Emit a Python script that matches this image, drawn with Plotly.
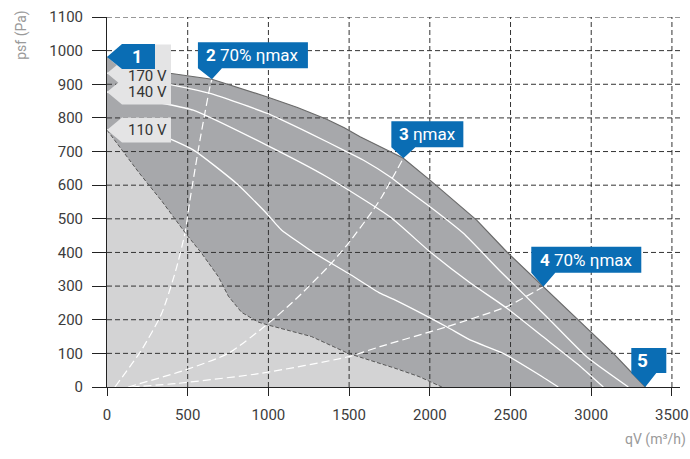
import plotly.graph_objects as go

# ---------------- data ----------------
X_TICKS = [0, 500, 1000, 1500, 2000, 2500, 3000, 3500]
Y_TICKS = [0, 100, 200, 300, 400, 500, 600, 700, 800, 900, 1000, 1100]
X_MAX = 3550
Y_MAX = 1100

# upper envelope (curve 1)
TOP_Q = [0, 150, 330, 400, 650, 989, 1180, 1361, 1470, 1568, 1753, 1836, 2001, 2290, 2476, 2703, 2931, 3137, 3335]
TOP_V = [981, 955, 935, 932, 915, 863, 831, 796, 771, 744, 700, 680, 615, 496, 402, 298, 194, 100, 0]

# lower limit of the operating area
LOW_Q = [0, 200, 339, 482, 587, 690, 752, 834, 937, 1000, 1267, 1494, 1783, 1933, 2075]
LOW_V = [764, 636, 553, 460, 397, 328, 270, 222, 193, 184, 150, 100, 56, 31, 0]

# speed curves
V170_Q = [0, 328, 638, 989, 1257, 1484, 1587, 1753, 1854, 2001, 2208, 2435, 2724, 2972, 3230]
V170_V = [933, 905, 873, 814, 754, 700, 675, 625, 588, 536, 457, 345, 209, 90, 0]
V140_Q = [0, 328, 534, 989, 1361, 1753, 2001, 2249, 2476, 2700, 2931, 3075]
V140_V = [877, 845, 823, 719, 625, 506, 402, 310, 235, 150, 62, 0]
V110_Q = [0, 328, 534, 803, 989, 1051, 1081, 1288, 1495, 1691, 1783, 2104, 2249, 2455, 2662, 2796]
V110_V = [764, 749, 705, 605, 516, 482, 467, 397, 338, 279, 259, 179, 140, 100, 41, 0]

# efficiency lines
E70L_Q = [49, 214, 339, 425, 483, 514, 576, 638, 650]
E70L_V = [0, 110, 219, 345, 457, 556, 734, 893, 915]
EMAX_Q = [131, 482, 752, 999, 1165, 1371, 1495, 1640, 1702, 1836]
EMAX_V = [0, 50, 100, 189, 259, 358, 427, 520, 565, 680]
E70R_Q = [150, 442, 958, 1495, 1691, 2104, 2476, 2703]
E70R_V = [0, 11, 41, 90, 120, 179, 239, 298]

VOLT_LABELS = ["170 V", "140 V", "110 V"]

# ---------------- style ----------------
DARK = "#a7a8ab"
LIGHT = "#d3d3d4"
LABEL_GREY = "#e4e4e5"
BLUE = "#0a6db4"
FONT = "Roboto, Liberation Sans, sans-serif"

fig = go.Figure()

# light grey area below the lower limit
fig.add_trace(go.Scatter(x=[0] + LOW_Q, y=[0] + LOW_V, mode="lines", fill="toself",
                         fillcolor=LIGHT, line=dict(width=0), hoverinfo="skip"))
# dark grey operating area
fig.add_trace(go.Scatter(x=TOP_Q + LOW_Q[::-1], y=TOP_V + LOW_V[::-1], mode="lines",
                         fill="toself", fillcolor=DARK, line=dict(width=0), hoverinfo="skip"))

# grid (drawn above the fills)
gx, gy = [], []
for t in Y_TICKS[1:]:
    gx += [0, X_MAX, None]
    gy += [t, t, None]
for t in X_TICKS[1:]:
    gx += [t, t, None]
    gy += [0, Y_MAX, None]
fig.add_trace(go.Scatter(x=gx, y=gy, mode="lines", line=dict(color="#333333", width=1, dash="5px,3px"),
                         hoverinfo="skip"))

# efficiency lines
for qs, vs in [(E70L_Q, E70L_V), (EMAX_Q, EMAX_V), (E70R_Q, E70R_V)]:
    fig.add_trace(go.Scatter(x=qs, y=vs, mode="lines",
                             line=dict(color="white", width=1.2, dash="8px,4px", shape="spline", smoothing=0.6),
                             hoverinfo="skip"))
# speed curves
for qs, vs in [(V170_Q, V170_V), (V140_Q, V140_V), (V110_Q, V110_V)]:
    fig.add_trace(go.Scatter(x=qs, y=vs, mode="lines",
                             line=dict(color="white", width=1.3, shape="spline", smoothing=0.5),
                             hoverinfo="skip"))
# boundaries
fig.add_trace(go.Scatter(x=LOW_Q, y=LOW_V, mode="lines",
                         line=dict(color="#555555", width=1, dash="4px,2px"), hoverinfo="skip"))
fig.add_trace(go.Scatter(x=TOP_Q, y=TOP_V, mode="lines",
                         line=dict(color="#6a6a6a", width=1.2), hoverinfo="skip"))


def callout(q, v, path, color):
    fig.add_shape(type="path", xref="x", yref="y", xsizemode="pixel", ysizemode="pixel",
                  xanchor=q, yanchor=v, path=path, fillcolor=color, line=dict(width=0), layer="above")


def label_text(q, v, text, dx, dy, color, size):
    fig.add_annotation(x=q, y=v, xref="x", yref="y", text=text, showarrow=False,
                       xanchor="center", yanchor="middle", xshift=dx, yshift=dy,
                       font=dict(family=FONT, size=size, color=color))


GREY_PATH = "M0,0 L15,12.5 L64,12.5 L64,-12.5 L15,-12.5 Z"
# hidden label behind "1"
callout(TOP_Q[0], TOP_V[0], GREY_PATH, LABEL_GREY)
for lab, v0, dy in zip(VOLT_LABELS, [V170_V[0], V140_V[0], V110_V[0]], [-3, 0, 0]):
    callout(0, v0, GREY_PATH, LABEL_GREY)
    label_text(0, v0, lab, 40, dy, "#333333", 15)

# blue callouts
callout(TOP_Q[0], TOP_V[0], "M0,0 L15,13 L48,13 L48,-12 L15,-12 Z", BLUE)
label_text(TOP_Q[0], TOP_V[0], "<b>1</b>", 30, 1, "white", 18)

callout(650, 915, "M0,0 L-14,11 L-14,37 L96,37 L96,11 L10,11 Z", BLUE)
label_text(650, 915, "<b>2</b> 70% ηmax", 41, 24, "white", 17)

callout(1836, 680, "M0,0 L-12,11 L-12,37 L60,37 L60,11 L12,11 Z", BLUE)
label_text(1836, 680, "<b>3</b> ηmax", 24, 24, "white", 17)

callout(2703, 298, "M0,0 L-12,14 L-12,40 L98,40 L98,14 L12,14 Z", BLUE)
label_text(2703, 298, "<b>4</b> 70% ηmax", 43, 27, "white", 17)

callout(TOP_Q[-1], TOP_V[-1], "M0,0 L-14,14 L-14,39 L21,39 L21,14 L11,14 Z", BLUE)
label_text(TOP_Q[-1], TOP_V[-1], "<b>5</b>", -3, 27, "white", 19)

# axis titles
fig.add_annotation(x=1, xref="paper", xshift=8, y=-0.143, yref="paper", text="qV (m³/h)",
                   showarrow=False, xanchor="right", yanchor="middle",
                   font=dict(family=FONT, size=14, color="#9a9a9a"))
fig.add_annotation(x=-0.149, xref="paper", y=0.951, yref="paper", text="psf (Pa)", textangle=-90,
                   showarrow=False, xanchor="center", yanchor="middle",
                   font=dict(family=FONT, size=14, color="#9a9a9a"))

axis_common = dict(showgrid=False, zeroline=False, showline=True, linecolor="#222222", linewidth=1,
                   ticks="outside", tickcolor="#222222", tickwidth=1, automargin=False,
                   tickfont=dict(family=FONT, size=15, color="#3c3c3c"), fixedrange=True)
fig.update_layout(
    width=690, height=459,
    margin=dict(l=107, r=10, t=17, b=72, autoexpand=False),
    plot_bgcolor="white", paper_bgcolor="white",
    showlegend=False,
    hovermode=False,
    xaxis=dict(range=[0, X_MAX], tickvals=X_TICKS, ticktext=[str(t) for t in X_TICKS],
               ticklen=8, ticklabelstandoff=6, **axis_common),
    yaxis=dict(range=[0, Y_MAX], tickvals=Y_TICKS, ticktext=[str(t) for t in Y_TICKS],
               ticklen=14, ticklabelstandoff=6, **axis_common),
)

# remove the default page margin so the 690x459 figure fills the window exactly
fig.write_html("out.html", config={"displayModeBar": False, "staticPlot": True},
               post_script="document.body.style.margin='0';document.body.style.overflow='hidden';")
